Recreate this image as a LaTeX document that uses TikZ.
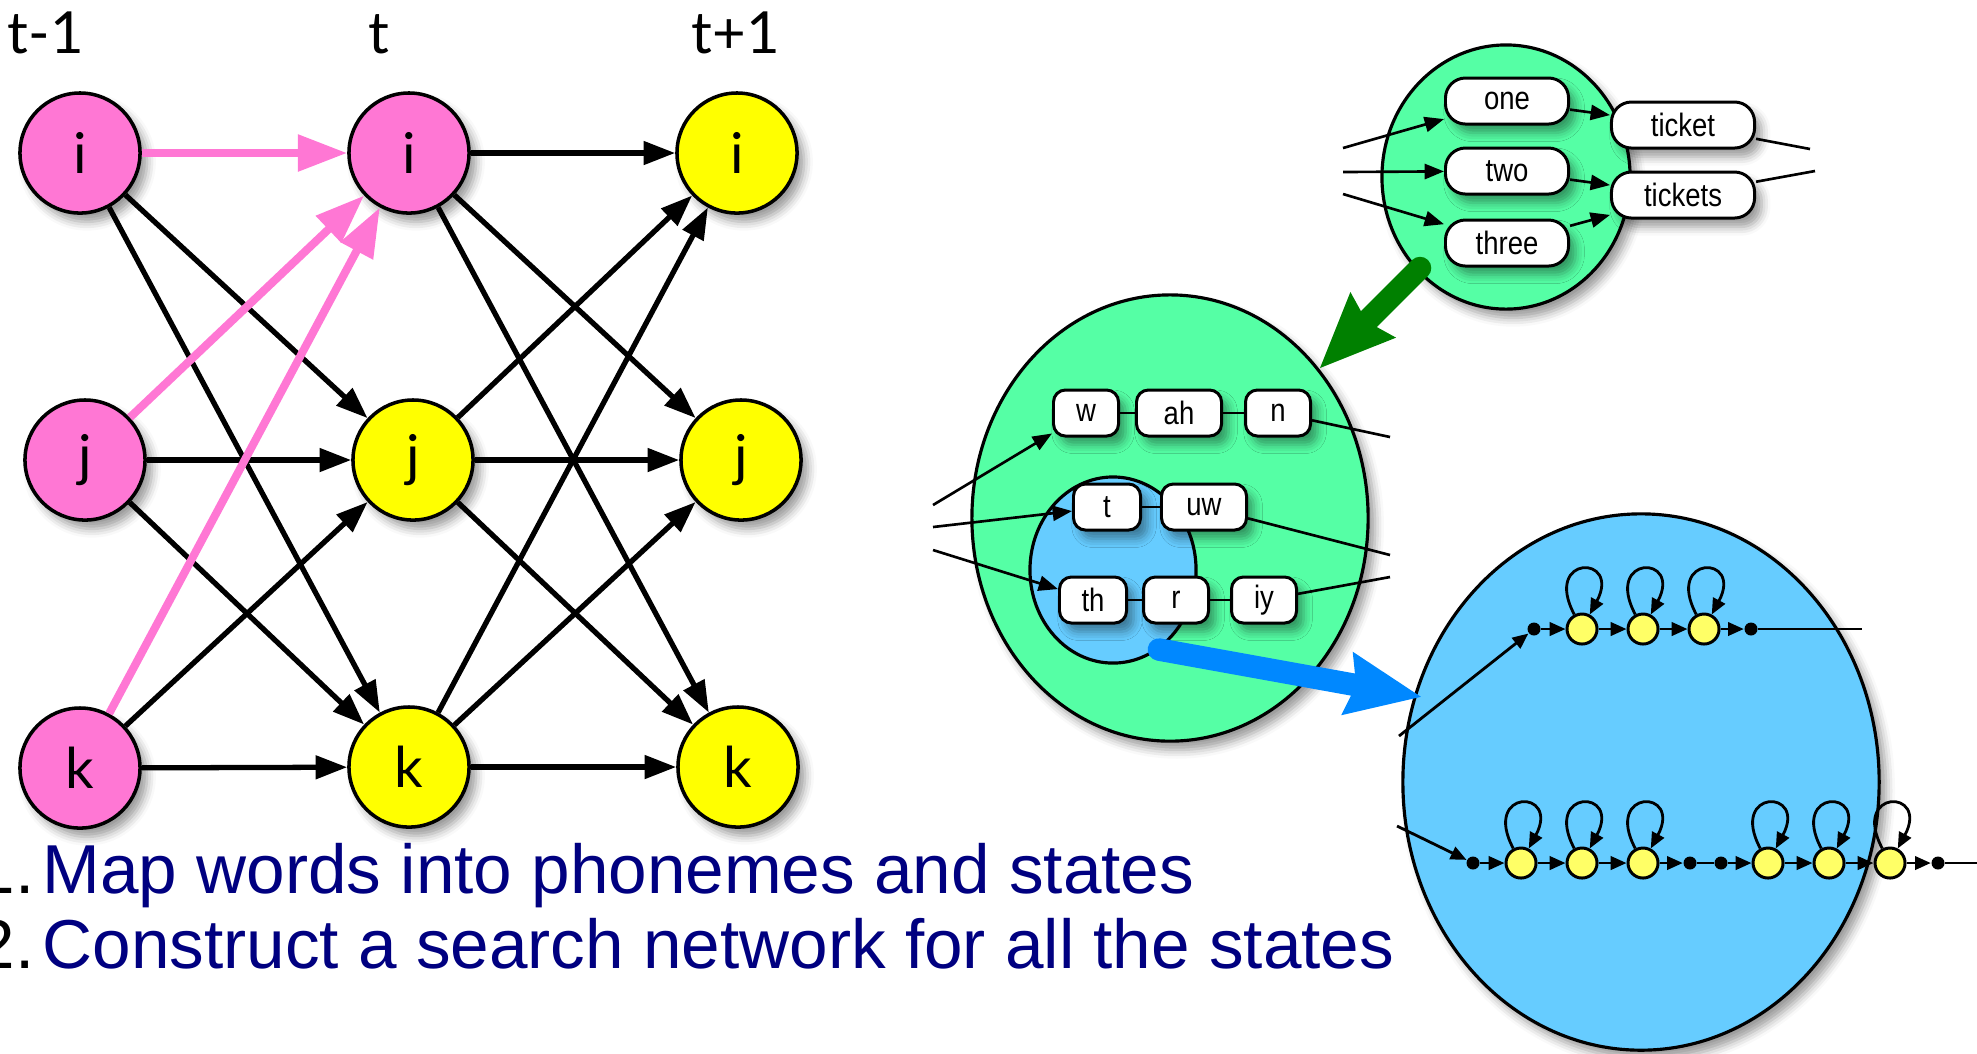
\documentclass[tikz,border=0pt]{standalone}
\usepackage{fontspec}
\setmainfont{Liberation Sans}
\newfontfamily\gillf{Lato}
\usetikzlibrary{arrows.meta,shapes.geometric,shadows.blur}
\definecolor{pinkc}{RGB}{255,119,212}
\definecolor{yelc}{RGB}{255,255,0}
\definecolor{mintc}{RGB}{85,255,165}
\definecolor{lbluec}{RGB}{102,204,255}
\definecolor{barrowc}{RGB}{0,136,255}
\definecolor{garrowc}{RGB}{0,128,0}
\definecolor{navyc}{RGB}{0,0,128}
\definecolor{syelc}{RGB}{255,255,102}
\newcommand\sqz[1]{\scalebox{0.85}[1]{#1}}
\begin{document}
\begin{tikzpicture}[x=0.01cm,y=-0.01cm,
  shd/.style={blur shadow={shadow xshift=2pt,shadow yshift=-2.5pt,shadow blur radius=2.5pt,shadow opacity=40}},
  tnode/.style={circle,draw=black,line width=1pt,minimum size=1.2cm,inner sep=0pt,font=\gillf\fontsize{16}{16}\selectfont,shd},
  pnode/.style={tnode,fill=pinkc},
  ynode/.style={tnode,fill=yelc},
  tlabel/.style={font=\gillf\fontsize{16.5}{17}\selectfont,inner sep=0pt,anchor=base},
  blk/.style={line width=1.5pt,-{Triangle[length=9pt,width=6.5pt]}},
  pnk/.style={color=pinkc,line width=2.3pt,-{Triangle[length=14pt,width=10pt]}},
  bigell/.style={ellipse,draw=black,line width=0.9pt,inner sep=0pt,shd},
  wbox/.style={rectangle,rounded corners=0.2cm,draw=black,fill=white,line width=0.85pt,minimum height=0.46cm,inner sep=0pt,font=\fontsize{9.2}{10}\selectfont,shd},
  phbox/.style={wbox,rounded corners=0.12cm},
  tarr/.style={line width=0.75pt,-{Triangle[length=5.5pt,width=4.3pt]}},
  tline/.style={line width=0.75pt},
  st/.style={circle,draw=black,fill=syelc,line width=0.85pt,minimum size=0.3cm,inner sep=0pt},
  dt/.style={circle,fill=black,minimum size=0.13cm,inner sep=0pt},
  sarr/.style={line width=0.8pt,-{Triangle[length=4.5pt,width=3.8pt]}},
  fat/.style={line width=6.4pt,line cap=round,-{Stealth[length=21pt,width=17pt,inset=2pt]}},
  btext/.style={font=\fontsize{19.7}{23}\selectfont,inner sep=0pt}
]
\useasboundingbox (0,0) rectangle (1977,1053);

% ---------- trellis ----------
\node[tlabel] (lt0) at (46,53) {t-1};
\node[tlabel] (lt1) at (379,53) {t};
\node[tlabel] (lt2) at (736,53) {t+1};

\node[pnode] (i1) at (80,153) {i};
\node[pnode] (j1) at (85,460) {j};
\node[pnode] (k1) at (80,768) {k};
\node[pnode] (i2) at (409,153) {i};
\node[ynode] (j2) at (413,460) {j};
\node[ynode] (k2) at (409,767) {k};
\node[ynode] (i3) at (737,153) {i};
\node[ynode] (j3) at (741,460) {j};
\node[ynode] (k3) at (738,767) {k};

\foreach \a/\b in {i1/j2,i1/k2,j1/j2,j1/k2,k1/j2,k1/k2,
                   i2/i3,i2/j3,i2/k3,j2/i3,j2/j3,j2/k3,k2/i3,k2/j3,k2/k3}
  \draw[blk] (\a) -- (\b);
\foreach \a in {i1,j1,k1}
  \draw[pnk] (\a) -- (i2);

% ---------- bottom text ----------
\node[btext,anchor=base east] (n1) at (35,893) {1.};
\node[btext,anchor=base west,text=navyc] (t1) at (42,893) {Map words into phonemes and states};
\node[btext,anchor=base east] (n2) at (35,968) {2.};
\node[btext,anchor=base west,text=navyc] (t2) at (42,968) {Construct a search network for all the states};

% ---------- big ellipses ----------
\node[bigell,fill=mintc,minimum width=2.48cm,minimum height=2.64cm] (wordell) at (1506,177) {};
\node[bigell,fill=mintc,minimum width=3.96cm,minimum height=4.46cm] (phoneell) at (1170,518) {};
\node[bigell,fill=lbluec,minimum width=4.76cm,minimum height=5.36cm] (stateell) at (1641,782) {};
\node[ellipse,draw=black,line width=0.9pt,fill=lbluec,inner sep=0pt,minimum width=1.66cm,minimum height=1.86cm] (inner) at (1113,570) {};

% ---------- word level ----------
\node[wbox,minimum width=1.23cm] (one) at (1507,101) {\sqz{one}};
\node[wbox,minimum width=1.23cm] (two) at (1507,171) {\sqz{two}};
\node[wbox,minimum width=1.23cm] (three) at (1507,243) {\sqz{three}};
\node[wbox,minimum width=1.43cm] (ticket) at (1683,125) {\sqz{ticket}};
\node[wbox,minimum width=1.43cm] (tickets) at (1683,195) {\sqz{tickets}};

\coordinate (win1) at (1343,148);
\coordinate (win2) at (1343,172);
\coordinate (win3) at (1343,194);
\coordinate (wout1) at (1810,149);
\coordinate (wout2) at (1815,171);
\draw[tarr] (win1) -- (one);
\draw[tarr] (win2) -- (two);
\draw[tarr] (win3) -- (three);
\draw[tarr] (one) -- (ticket);
\draw[tarr] (two) -- (tickets);
\draw[tarr] (three) -- (tickets);
\draw[tline] (ticket) -- (wout1);
\draw[tline] (tickets) -- (wout2);

% ---------- phone level ----------
\node[phbox,minimum width=0.65cm] (w) at (1086,413) {\sqz{w}};
\node[phbox,minimum width=0.85cm] (ah) at (1179,413) {\sqz{ah}};
\node[phbox,minimum width=0.65cm] (n) at (1278,413) {\sqz{n}};
\node[phbox,minimum width=0.67cm] (t) at (1107,507) {\sqz{t}};
\node[phbox,minimum width=0.85cm] (uw) at (1204,507) {\sqz{uw}};
\node[phbox,minimum width=0.67cm] (th) at (1093,600) {\sqz{th}};
\node[phbox,minimum width=0.65cm] (r) at (1176,600) {\sqz{r}};
\node[phbox,minimum width=0.65cm] (iy) at (1264,600) {\sqz{iy}};

\draw[tline] (w) -- (ah);
\draw[tline] (ah) -- (n);
\draw[tline] (t) -- (uw);
\draw[tline] (th) -- (r);
\draw[tline] (r) -- (iy);

\coordinate (pin1) at (933,505);
\coordinate (pin2) at (933,527);
\coordinate (pin3) at (933,550);
\coordinate (pout1) at (1390,437);
\coordinate (pout2) at (1390,555);
\coordinate (pout3) at (1390,577);
\draw[tarr] (pin1) -- (w);
\draw[tarr] (pin2) -- (t);
\draw[tarr] (pin3) -- (th);
\draw[tline] (n) -- (pout1);
\draw[tline] (uw) -- (pout2);
\draw[tline] (iy) -- (pout3);

% ---------- state level ----------
\node[dt] (d1) at (1534,629) {};
\node[st] (s1) at (1582,629) {};
\node[st] (s2) at (1643,629) {};
\node[st] (s3) at (1704,629) {};
\node[dt] (d2) at (1751,629) {};
\coordinate (si1) at (1399,736);
\coordinate (so1) at (1862,629);

\node[dt] (d3) at (1473,863) {};
\node[st] (s4) at (1521,863) {};
\node[st] (s5) at (1582,863) {};
\node[st] (s6) at (1643,863) {};
\node[dt] (d4) at (1690,863) {};
\node[dt] (d5) at (1721,863) {};
\node[st] (s7) at (1768,863) {};
\node[st] (s8) at (1829,863) {};
\node[st] (s9) at (1890,863) {};
\node[dt] (d6) at (1938,863) {};
\coordinate (si2) at (1397,826);
\coordinate (so2) at (1977,863);

\draw[sarr] (si1) -- (d1);
\foreach \a/\b in {d1/s1,s1/s2,s2/s3,s3/d2,d3/s4,s4/s5,s5/s6,s6/d4,d5/s7,s7/s8,s8/s9,s9/d6}
  \draw[sarr] (\a) -- (\b);
\draw[sarr] (si2) -- (d3);
\draw[tline] (d2) -- (so1);
\draw[tline] (d4) -- (d5);
\draw[tline] (d6) -- (so2);
\foreach \s in {s1,s2,s3,s4,s5,s6,s7,s8,s9}
  \draw[sarr] (\s) to[out=118,in=62,min distance=0.68cm] (\s);

% ---------- big arrows ----------
\coordinate (ga) at (1420,268);
\draw[fat,garrowc] (ga) -- (phoneell);
\coordinate (bt) at (1422,697);
\draw[fat,barrowc] (inner.-60) -- (bt);
\end{tikzpicture}
\end{document}
